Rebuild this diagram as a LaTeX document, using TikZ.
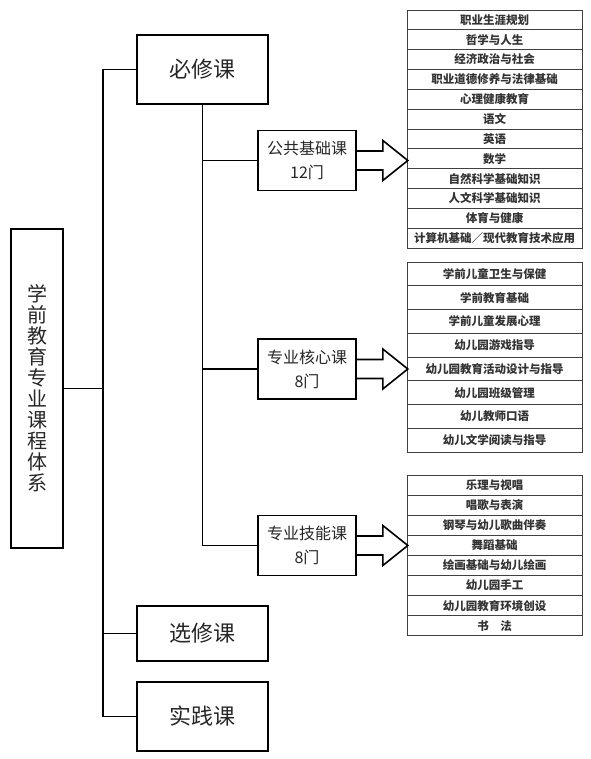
\documentclass[tikz,border=0pt]{standalone}
\usepackage{fontspec}
\setmainfont{Noto Sans CJK SC}
\begin{document}
\begin{tikzpicture}
[x=1pt, y=-1pt, font=\fontsize{12}{14}\selectfont]
\tikzstyle{box}=[draw, line width=1.6pt, inner sep=0pt, align=center, text=black!85]
\tikzstyle{big}=[box, minimum width=131pt, font=\fontsize{22}{26}\selectfont]
\tikzstyle{mid}=[box, minimum width=98pt, minimum height=60pt, font=\fontsize{16}{24}\selectfont]
\tikzstyle{item}=[draw=black!75, line width=0.9pt, minimum width=175pt, inner sep=0pt, font=\bfseries\fontsize{11.5}{13}\selectfont, text=black!80]
\tikzstyle{link}=[line width=1.6pt]
\useasboundingbox (0,0) rectangle (590,759);

\node[box, minimum width=52pt, minimum height=319pt, font=\fontsize{20}{21}\selectfont]	(R)	at (37,388.5) {学\\前\\教\\育\\专\\业\\课\\程\\体\\系};
\node[big, minimum height=69pt]	(Req)	at (202.5,69.5)  {必修课};
\node[big, minimum height=55pt]	(Ele)	at (202.5,633.5) {选修课};
\node[big, minimum height=69pt]	(Prac)	at (202.5,716.5) {实践课};
\node[mid]	(Pub)	at (307,160.5) {公共基础课\\12门};
\node[mid]	(Core)	at (307,369)   {专业核心课\\8门};
\node[mid]	(Skill)	at (307,545.5) {专业技能课\\8门};
\coordinate	(T)	at (103,0);

\begin{scope}[node distance=19.85pt]
\node[item, minimum height=19.85pt]	(P1)	at (494.5,19.9) {职业生涯规划};
\node[item, minimum height=19.85pt]	(P2)	[below of=P1]  {哲学与人生};
\node[item, minimum height=19.85pt]	(P3)	[below of=P2]  {经济政治与社会};
\node[item, minimum height=19.85pt]	(P4)	[below of=P3]  {职业道德修养与法律基础};
\node[item, minimum height=19.85pt]	(P5)	[below of=P4]  {心理健康教育};
\node[item, minimum height=19.85pt]	(P6)	[below of=P5]  {语文};
\node[item, minimum height=19.85pt]	(P7)	[below of=P6]  {英语};
\node[item, minimum height=19.85pt]	(P8)	[below of=P7]  {数学};
\node[item, minimum height=19.85pt]	(P9)	[below of=P8]  {自然科学基础知识};
\node[item, minimum height=19.85pt]	(P10)	[below of=P9]  {人文科学基础知识};
\node[item, minimum height=19.85pt]	(P11)	[below of=P10] {体育与健康};
\node[item, minimum height=19.85pt]	(P12)	[below of=P11] {计算机基础／现代教育技术应用};
\end{scope}

\begin{scope}[node distance=23.75pt]
\node[item, minimum height=23.75pt]	(K1)	at (494.5,273.9) {学前儿童卫生与保健};
\node[item, minimum height=23.75pt]	(K2)	[below of=K1] {学前教育基础};
\node[item, minimum height=23.75pt]	(K3)	[below of=K2] {学前儿童发展心理};
\node[item, minimum height=23.75pt]	(K4)	[below of=K3] {幼儿园游戏指导};
\node[item, minimum height=23.75pt]	(K5)	[below of=K4] {幼儿园教育活动设计与指导};
\node[item, minimum height=23.75pt]	(K6)	[below of=K5] {幼儿园班级管理};
\node[item, minimum height=23.75pt]	(K7)	[below of=K6] {幼儿教师口语};
\node[item, minimum height=23.75pt]	(K8)	[below of=K7] {幼儿文学阅读与指导};
\end{scope}

\begin{scope}[node distance=20.1pt]
\node[item, minimum height=20.1pt]	(S1)	at (494.5,485) {乐理与视唱};
\node[item, minimum height=20.1pt]	(S2)	[below of=S1] {唱歌与表演};
\node[item, minimum height=20.1pt]	(S3)	[below of=S2] {钢琴与幼儿歌曲伴奏};
\node[item, minimum height=20.1pt]	(S4)	[below of=S3] {舞蹈基础};
\node[item, minimum height=20.1pt]	(S5)	[below of=S4] {绘画基础与幼儿绘画};
\node[item, minimum height=20.1pt]	(S6)	[below of=S5] {幼儿园手工};
\node[item, minimum height=20.1pt]	(S7)	[below of=S6] {幼儿园教育环境创设};
\node[item, minimum height=20.1pt]	(S8)	[below of=S7] {书　法};
\end{scope}

\draw[link]	(Req.west) -- (Req.west -| T) -- (Prac.west -| T) -- (Prac.west);
\draw[link]	(R.east) -- (R.east -| T);
\draw[link]	(Ele.west) -- (Ele.west -| T);
\draw[link]	(Req.south) |- (Skill.west);
\draw[link]	(Pub.west) -- (Pub.west -| Req.south);
\draw[link]	(Core.west) -- (Core.west -| Req.south);

\draw[link]	(Pub.east) ++(0,-9.5) -- ++(26,0) -- ++(0,-10.5) -- ++(25,20) -- ++(-25,20) -- ++(0,-10.5) -- ++(-26,0);
\draw[link]	(Core.east) ++(0,-9.5) -- ++(26,0) -- ++(0,-10.5) -- ++(25,20) -- ++(-25,20) -- ++(0,-10.5) -- ++(-26,0);
\draw[link]	(Skill.east) ++(0,-9.5) -- ++(26,0) -- ++(0,-10.5) -- ++(25,20) -- ++(-25,20) -- ++(0,-10.5) -- ++(-26,0);
\end{tikzpicture}
\end{document}
